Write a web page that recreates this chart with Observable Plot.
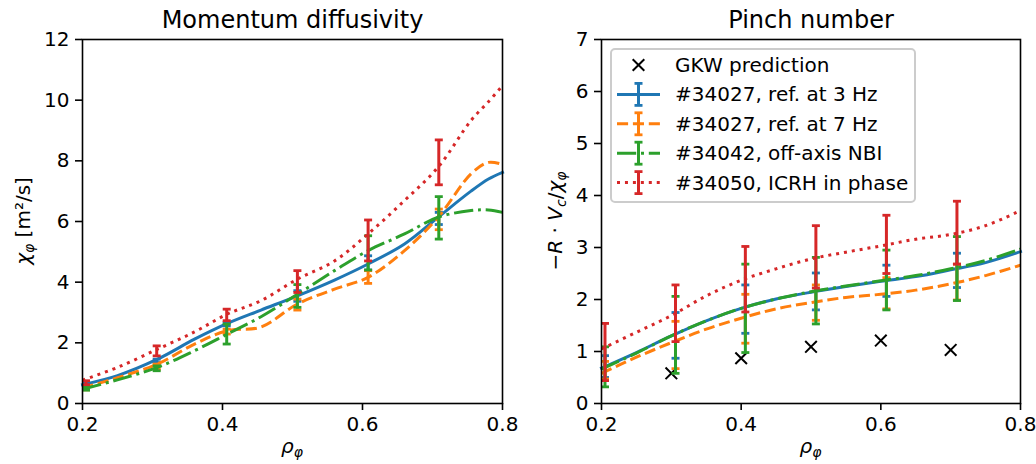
<!DOCTYPE html>
<html><head><meta charset="utf-8">
<script src="https://cdn.jsdelivr.net/npm/d3@7"></script>
<script src="https://cdn.jsdelivr.net/npm/@observablehq/plot@0.6"></script>
<style>
body{margin:0;background:#fff;}
#c{position:relative;width:1036px;height:464px;font-family:"DejaVu Sans",sans-serif;overflow:hidden;}
#c > svg{position:absolute;top:0;}
</style></head><body><div id="c"></div>
<script>
// ---------- data ----------
const xTicks = [0.2, 0.4, 0.6, 0.8];
const yTicksLeft = [0, 2, 4, 6, 8, 10, 12];
const yTicksRight = [0, 1, 2, 3, 4, 5, 6, 7];

const seriesNames = ["#34027, ref. at 3 Hz", "#34027, ref. at 7 Hz", "#34042, off-axis NBI", "#34050, ICRH in phase"];
const seriesColors = ["#1f77b4", "#ff7f0e", "#2ca02c", "#d62728"];

// Left panel: momentum diffusivity curves
const rhoCurveL = [0.2, 0.25, 0.307, 0.36, 0.407, 0.455, 0.507, 0.56, 0.608, 0.66, 0.708, 0.755, 0.78, 0.8];
const chiBlue   = [0.62, 0.92, 1.46, 2.12, 2.64, 3.08, 3.55, 4.07, 4.60, 5.26, 6.14, 7.00, 7.40, 7.62];
const chiOrange = [0.51, 0.85, 1.30, 1.96, 2.40, 2.52, 3.28, 3.77, 4.16, 5.04, 6.14, 7.57, 7.95, 7.88];
const chiGreen  = [0.47, 0.78, 1.19, 1.74, 2.29, 2.86, 3.60, 4.38, 5.04, 5.59, 6.14, 6.36, 6.38, 6.30];
const chiRed    = [0.77, 1.19, 1.79, 2.36, 2.95, 3.39, 4.10, 4.70, 5.59, 6.69, 7.79, 9.33, 9.95, 10.48];

// Error bars positions
const rhoBars = [0.205, 0.306, 0.406, 0.507, 0.608, 0.709];
const chiBlueLo   = [0.55, 1.35, 2.56, 3.37, 4.40, 5.90];
const chiBlueHi   = [0.68, 1.46, 2.67, 3.72, 4.87, 6.30];
const chiOrangeLo = [0.45, 1.13, 2.29, 3.08, 3.96, 5.73];
const chiOrangeHi = [0.58, 1.30, 2.45, 3.44, 4.38, 6.41];
const chiGreenLo  = [0.44, 1.08, 1.96, 3.17, 4.40, 5.42];
const chiGreenHi  = [0.55, 1.24, 2.62, 3.92, 5.53, 6.82];
const chiRedLo    = [0.62, 1.57, 2.73, 3.66, 4.70, 7.21];
const chiRedHi    = [0.75, 1.90, 3.11, 4.38, 6.05, 8.69];

// Right panel: pinch number curves
const rhoCurveR = [0.2, 0.25, 0.3, 0.35, 0.4, 0.45, 0.5, 0.55, 0.6, 0.65, 0.7, 0.75, 0.8];
const pinBlue   = [0.68, 0.98, 1.30, 1.59, 1.83, 2.01, 2.14, 2.25, 2.35, 2.44, 2.57, 2.71, 2.92];
const pinOrange = [0.58, 0.89, 1.17, 1.43, 1.64, 1.82, 1.94, 2.04, 2.10, 2.18, 2.30, 2.46, 2.66];
const pinGreen  = [0.66, 0.97, 1.30, 1.59, 1.83, 2.01, 2.15, 2.26, 2.36, 2.46, 2.59, 2.75, 2.97];
const pinRed    = [1.05, 1.37, 1.69, 2.07, 2.37, 2.59, 2.78, 2.91, 3.03, 3.16, 3.25, 3.42, 3.71];

const pinBlueLo   = [0.50, 0.87, 1.35, 1.80, 2.06, 2.23];
const pinBlueHi   = [0.92, 1.75, 2.28, 2.51, 2.66, 2.89];
const pinOrangeLo = [0.47, 0.67, 1.16, 1.60, 1.82, 1.99];
const pinOrangeHi = [0.81, 1.58, 2.10, 2.28, 2.42, 2.68];
const pinGreenLo  = [0.32, 0.58, 0.98, 1.53, 1.80, 1.98];
const pinGreenHi  = [1.09, 2.06, 2.68, 2.81, 2.95, 3.21];
const pinRedLo    = [0.44, 1.19, 1.76, 2.22, 2.50, 2.68];
const pinRedHi    = [1.54, 2.28, 3.02, 3.42, 3.62, 3.89];

// GKW prediction
const rhoGKW = [0.3, 0.4, 0.5, 0.6, 0.7];
const pinGKW = [0.58, 0.87, 1.09, 1.21, 1.03];

// ---------- styling ----------
const dashes = [null, "11.1,4.8", "19.2,4.8,3,4.8", "3,4.95"];
const LW = 3;
const CAP = 4;

const hline = {draw(ctx, size) { const r = Math.sqrt(size / Math.PI); ctx.moveTo(-r, 0); ctx.lineTo(r, 0); }};
const xmark = {draw(ctx, size) { const r = Math.sqrt(size / Math.PI); ctx.moveTo(-r, -r); ctx.lineTo(r, r); ctx.moveTo(-r, r); ctx.lineTo(r, -r); }};

function seriesMarks(rhoC, vals, lo, hi, i) {
  const curve = rhoC.map((x, k) => ({x, y: vals[k]}));
  const bars = rhoBars.map((x, k) => ({x, lo: lo[k], hi: hi[k]}));
  const caps = bars.flatMap(d => [{x: d.x, y: d.lo}, {x: d.x, y: d.hi}]);
  return [
    Plot.line(curve, {x: "x", y: "y", stroke: seriesColors[i], strokeWidth: LW, strokeDasharray: dashes[i],
      curve: "catmull-rom", strokeLinecap: i === 0 ? "square" : "butt"}),
    Plot.ruleX(bars, {x: "x", y1: "lo", y2: "hi", stroke: seriesColors[i], strokeWidth: LW}),
    Plot.dot(caps, {x: "x", y: "y", symbol: hline, r: CAP, stroke: seriesColors[i], strokeWidth: 2.8, fill: "none"})
  ];
}

function panel({width, marginLeft, marginRight, yDomain, yTicks, curves, extra, title}) {
  return Plot.plot({
    width, height: 464, marginLeft, marginRight, marginTop: 39, marginBottom: 61,
    style: {fontFamily: "DejaVu Sans", fontSize: "20px", background: "transparent", color: "black", overflow: "visible"},
    x: {domain: [0.2, 0.8]},
    y: {domain: yDomain},
    marks: [
      Plot.axisX({ticks: xTicks, tickFormat: d3.format(".1f"), tickSize: 7, tickPadding: 6, label: null, strokeWidth: 1.6}),
      Plot.axisY({ticks: yTicks, tickFormat: d3.format("d"), tickSize: 7, tickPadding: 6, label: null, strokeWidth: 1.6}),
      ...extra,
      ...curves,
      Plot.frame({stroke: "black", strokeWidth: 1.6}),
      Plot.text([title], {frameAnchor: "top", dy: -12, lineAnchor: "bottom", fontSize: 24, fill: "black"})
    ]
  });
}

const c = document.getElementById("c");

const leftCurves = [
  ...seriesMarks(rhoCurveL, chiBlue, chiBlueLo, chiBlueHi, 0),
  ...seriesMarks(rhoCurveL, chiOrange, chiOrangeLo, chiOrangeHi, 1),
  ...seriesMarks(rhoCurveL, chiGreen, chiGreenLo, chiGreenHi, 2),
  ...seriesMarks(rhoCurveL, chiRed, chiRedLo, chiRedHi, 3)
];
const rightCurves = [
  ...seriesMarks(rhoCurveR, pinBlue, pinBlueLo, pinBlueHi, 0),
  ...seriesMarks(rhoCurveR, pinOrange, pinOrangeLo, pinOrangeHi, 1),
  ...seriesMarks(rhoCurveR, pinGreen, pinGreenLo, pinGreenHi, 2),
  ...seriesMarks(rhoCurveR, pinRed, pinRedLo, pinRedHi, 3)
];
const gkwRows = rhoGKW.map((x, k) => ({x, y: pinGKW[k]}));

const L = panel({width: 518, marginLeft: 82, marginRight: 16, yDomain: [0, 12], yTicks: yTicksLeft,
  curves: leftCurves, extra: [], title: "Momentum diffusivity"});
L.style.left = "0px";
c.appendChild(L);

const R = panel({width: 518, marginLeft: 83, marginRight: 16, yDomain: [0, 7], yTicks: yTicksRight,
  curves: rightCurves,
  extra: [Plot.dot(gkwRows, {x: "x", y: "y", symbol: xmark, r: 5.8, stroke: "black", strokeWidth: 2, fill: "none"})],
  title: "Pinch number"});
R.style.left = "518px";
c.appendChild(R);

// ---------- axis labels with math formatting ----------
function addLabel(svg, x, y, rotate, parts) {
  const t = d3.select(svg).append("text")
    .attr("transform", `translate(${x},${y})` + (rotate ? " rotate(-90)" : ""))
    .attr("text-anchor", "middle").attr("font-size", 20).attr("fill", "black")
    .attr("font-family", "DejaVu Sans");
  let sub = false;
  for (const p of parts) {
    const s = t.append("tspan").text(p.t);
    if (p.i) s.attr("font-style", "italic");
    if (p.sub && !sub) { s.attr("font-size", 14).attr("dy", 4); sub = true; }
    else if (!p.sub && sub) { s.attr("dy", -4); sub = false; }
    else if (p.sub) s.attr("font-size", 14);
  }
}
addLabel(L, 292, 453, false, [{t: "ρ", i: true}, {t: "φ", i: true, sub: true}]);
addLabel(R, 292.5, 453, false, [{t: "ρ", i: true}, {t: "φ", i: true, sub: true}]);
addLabel(L, 30, 221, true, [{t: "χ", i: true}, {t: "φ", i: true, sub: true}, {t: " [m²/s]"}]);
addLabel(R, 44, 221, true, [{t: "−"}, {t: "R", i: true}, {t: " · "}, {t: "V", i: true}, {t: "c", i: true, sub: true},
  {t: "/"}, {t: "χ", i: true}, {t: "φ", i: true, sub: true}]);

// ---------- legend ----------
const lg = d3.select(R).append("g").attr("transform", "translate(-518,0)").attr("text-anchor", "start");
lg.append("rect").attr("x", 611).attr("y", 49).attr("width", 304).attr("height", 153).attr("rx", 4)
  .attr("fill", "white").attr("fill-opacity", 0.8).attr("stroke", "#cccccc").attr("stroke-width", 2);
const legendLabels = ["GKW prediction", ...seriesNames];
const hx1 = 617, hx2 = 660, hc = 638.5, tx = 675;
legendLabels.forEach((lab, k) => {
  const y = 65 + 29.4 * k;
  if (k === 0) {
    lg.append("path").attr("d", `M${hc-5.8},${y-5.8}L${hc+5.8},${y+5.8}M${hc-5.8},${y+5.8}L${hc+5.8},${y-5.8}`)
      .attr("stroke", "black").attr("stroke-width", 2);
  } else {
    const i = k - 1, col = seriesColors[i];
    lg.append("line").attr("x1", hx1).attr("x2", hx2).attr("y1", y).attr("y2", y)
      .attr("stroke", col).attr("stroke-width", LW).attr("stroke-dasharray", dashes[i]);
    lg.append("line").attr("x1", hc).attr("x2", hc).attr("y1", y - 11).attr("y2", y + 11)
      .attr("stroke", col).attr("stroke-width", LW);
    for (const yy of [y - 11, y + 11])
      lg.append("line").attr("x1", hc - CAP).attr("x2", hc + CAP).attr("y1", yy).attr("y2", yy)
        .attr("stroke", col).attr("stroke-width", 2.8);
  }
  lg.append("text").attr("x", tx).attr("y", y).attr("dy", "0.35em").attr("font-size", 20)
    .attr("text-anchor", "start").attr("font-family", "DejaVu Sans").attr("fill", "black").text(lab);
});
</script></body></html>
